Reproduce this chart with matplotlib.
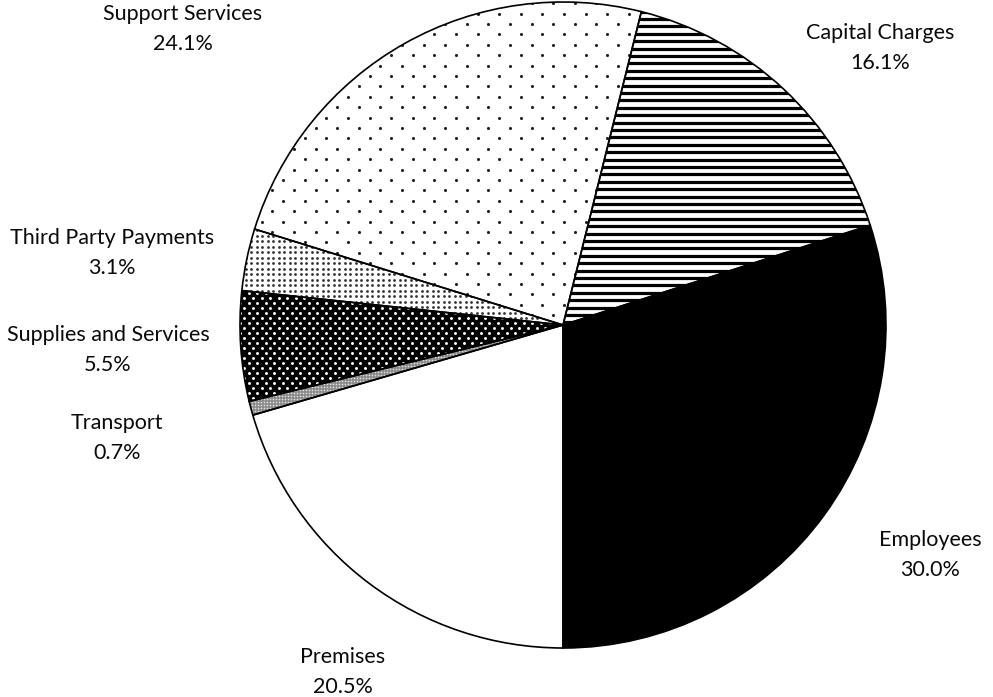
import matplotlib
matplotlib.use("Agg")
import matplotlib.pyplot as plt
import numpy as np

categories = ["Employees", "Premises", "Transport", "Supplies and Services",
              "Third Party Payments", "Support Services", "Capital Charges"]
values = [30.0, 20.5, 0.7, 5.5, 3.1, 24.1, 16.1]

# styling per slice: face colour and fill pattern
faces = ["black", "white", "#8a8a8a", "black", "white", "white", "white"]
# pattern: (kind, dx, dy, stagger, dot colour, dot size)
patterns = [None, None,
            ("dots", 3.0, 3.0, False, "#e0e0e0", 1.4),
            ("dots", 8.6, 5.0, True, "white", 4.5),
            ("dots", 5.5, 5.5, False, "#333333", 4.0),
            ("dots", 21.6, 10.4, True, "#222222", 5.0),
            ("stripes", 7.4, 0, False, "black", 2.3)]

# label centres (pixel coords, top-left origin)
label_pos = [(930, 540), (343, 657), (117, 423), (108, 335),
             (112, 238), (183, 14), (880, 33)]

W, H = 993, 697
fig = plt.figure(figsize=(W / 100, H / 100), dpi=100)
ax = fig.add_axes([0, 0, 1, 1])

cx, cy, r = 563, H - 325, 323

wedges, _ = ax.pie(values, startangle=18, counterclock=False,
                   center=(cx, cy), radius=r, frame=True,
                   wedgeprops=dict(linewidth=0))
for w, fc, pat in zip(wedges, faces, patterns):
    w.set_facecolor(fc)
    w.set_edgecolor("none")
    if pat is None:
        continue
    kind, dx, dy, stag, col, size = pat
    if kind == "dots":
        ys = np.arange(cy - r - dy, cy + r + dy, dy)
        xs_list, ys_list = [], []
        for i, yy in enumerate(ys):
            off = dx / 2 if (stag and i % 2) else 0
            xs = np.arange(cx - r - dx, cx + r + dx, dx) + off
            xs_list.append(xs)
            ys_list.append(np.full_like(xs, yy))
        sc = ax.scatter(np.concatenate(xs_list), np.concatenate(ys_list),
                        s=size, c=col, marker="o", linewidths=0, zorder=2)
        sc.set_clip_path(w)
    else:
        for yy in np.arange(cy - r, cy + r, dx):
            ln, = ax.plot([cx - r, cx + r], [yy, yy], color=col,
                          linewidth=size, solid_capstyle="butt", zorder=2)
            ln.set_clip_path(w)

# outlines on top
wedges2, _ = ax.pie(values, startangle=18, counterclock=False,
                    center=(cx, cy), radius=r, frame=True,
                    wedgeprops=dict(linewidth=1.2, edgecolor="black",
                                    fill=False, zorder=3))
ax.set_xlim(0, W)
ax.set_ylim(0, H)
ax.set_aspect("equal")
ax.axis("off")

font = "Lato"
for name, v, (lx, ly) in zip(categories, values, label_pos):
    ax.text(lx, H - ly, name, ha="center", va="center", fontsize=15.5,
            family=font, color="#0a0a0a")
    ax.text(lx, H - ly - 30, f"{v:.1f}%", ha="center", va="center",
            fontsize=15.5, family=font, color="#0a0a0a")

fig.savefig("out.png", dpi=100)
